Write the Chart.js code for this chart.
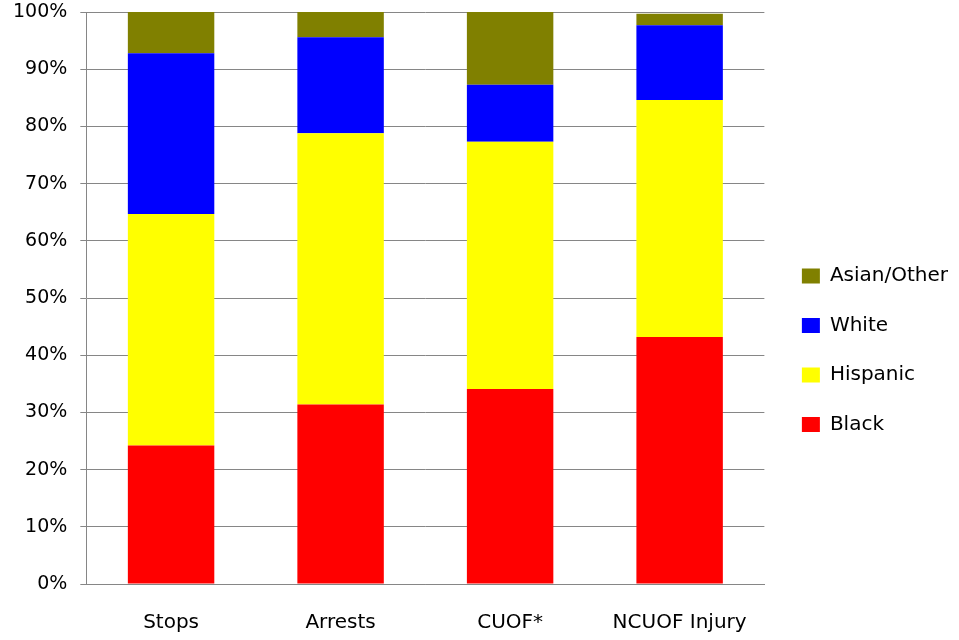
<!DOCTYPE html>
<html lang="en">
<head>
    <meta charset="UTF-8">
    <title>Stops, Arrests and Use of Force by Race</title>
    <script src="https://cdn.jsdelivr.net/npm/chart.js"></script>
    <style>
        html, body { margin: 0; padding: 0; background: #fff; }
        #wrap { width: 959px; height: 640px; }
    </style>
</head>
<body>
<div id="wrap"><canvas id="raceChart"></canvas></div>

<script>
    // categories and per-race percentages
    const categories = ['Stops', 'Arrests', 'CUOF*', 'NCUOF Injury'];
    const black = [24.2, 31.4, 34.1, 43.2];
    const hispanic = [40.5, 47.4, 43.2, 41.4];
    const white = [28.1, 16.8, 10.0, 13.1];
    const asianOther = [7.2, 4.4, 12.7, 2.0];
    const yTicks = [0, 10, 20, 30, 40, 50, 60, 70, 80, 90, 100];

    Chart.defaults.font.family = "'DejaVu Sans', sans-serif";
    Chart.defaults.color = '#000';

    const gridGray = '#868686';

    // nudge the legend a bit to the right of the plot, like the original
    const legendShift = {
        id: 'legendShift',
        afterLayout(chart) {
            chart.legend.left += 8;
            chart.legend.right += 8;
        }
    };

    new Chart(document.getElementById('raceChart'), {
        type: 'bar',
        data: {
            labels: categories,
            datasets: [
                { label: 'Black', data: black, backgroundColor: '#ff0000' },
                { label: 'Hispanic', data: hispanic, backgroundColor: '#ffff00' },
                { label: 'White', data: white, backgroundColor: '#0000ff' },
                { label: 'Asian/Other', data: asianOther, backgroundColor: '#808000' }
            ]
        },
        options: {
            responsive: true,
            maintainAspectRatio: false,
            animation: false,
            datasets: {
                bar: { categoryPercentage: 1, barPercentage: 0.51, borderWidth: 0 }
            },
            layout: { autoPadding: false, padding: { left: 0, top: 0, bottom: -14, right: 9 } },
            plugins: {
                tooltip: { enabled: false },
                legend: {
                    position: 'right',
                    reverse: true,
                    title: { display: true, text: ' ', padding: { top: 32 } },
                    labels: {
                        boxWidth: 18,
                        boxHeight: 15,
                        padding: 29.5,
                        font: { size: 20 }
                    }
                }
            },
            scales: {
                x: {
                    stacked: true,
                    grid: { display: false },
                    border: { display: true, color: gridGray },
                    ticks: { padding: 19, font: { size: 20 } }
                },
                y: {
                    stacked: true,
                    min: 0,
                    max: 100,
                    afterBuildTicks: (axis) => {
                        axis.ticks = yTicks.map(v => ({ value: v }));
                    },
                    // the top label may sit right at the canvas edge
                    afterFit: (axis) => {
                        axis.paddingTop = 12;
                    },
                    grid: { color: gridGray, lineWidth: 1, tickLength: 6 },
                    border: { color: gridGray },
                    ticks: {
                        padding: 13,
                        font: { size: 19 },
                        callback: (v) => v + '%'
                    }
                }
            }
        },
        plugins: [legendShift]
    });
</script>
</body>
</html>
